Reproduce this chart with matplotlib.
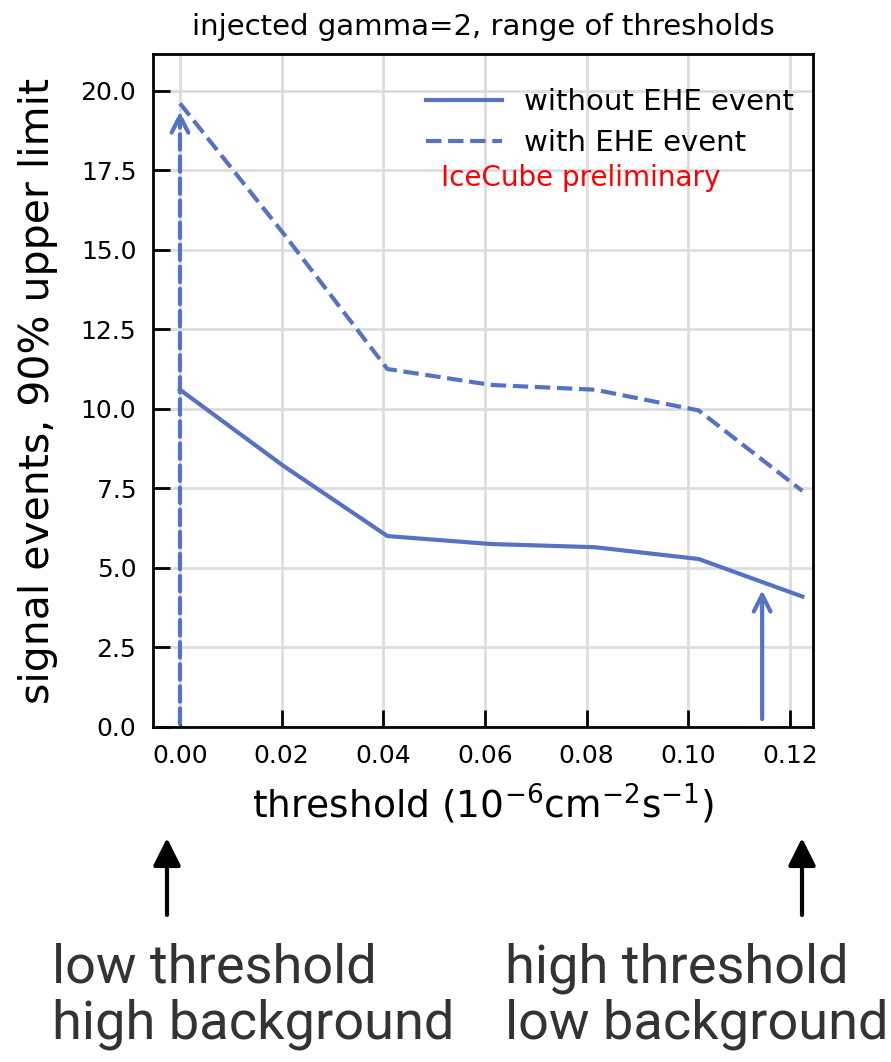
import matplotlib
matplotlib.use("Agg")
from matplotlib import pyplot as plt

# threshold values (1e-6 cm^-2 s^-1) and 90% upper limits
thresholds = [0.0, 0.0204, 0.0408, 0.0612, 0.0816, 0.102, 0.1224]
limit_without_ehe = [10.6, 8.2, 6.0, 5.75, 5.65, 5.28, 4.1]
limit_with_ehe = [19.6, 15.5, 11.25, 10.75, 10.6, 9.95, 7.42]

x_ticks = [0.00, 0.02, 0.04, 0.06, 0.08, 0.10, 0.12]
y_ticks = [0.0, 2.5, 5.0, 7.5, 10.0, 12.5, 15.0, 17.5, 20.0]

blue = '#5572c4'

fig = plt.figure(figsize=(8.91, 10.62), dpi=100)
ax = fig.add_axes([153 / 891, 1 - 727 / 1062, 660 / 891, 673 / 1062])

ax.plot(thresholds, limit_without_ehe, '-', color=blue, lw=3, label='without EHE event')
ax.plot(thresholds, limit_with_ehe, '--', color=blue, lw=3, label='with EHE event')

# arrows marking the two ends of the threshold range
ax.annotate('', xy=(thresholds[0], 19.35), xytext=(thresholds[0], 0.1),
            arrowprops=dict(arrowstyle='->', color=blue, lw=3, ls='--',
                            mutation_scale=30, shrinkA=0, shrinkB=0))
ax.annotate('', xy=(0.1145, 4.3), xytext=(0.1145, 0.25),
            arrowprops=dict(arrowstyle='->', color=blue, lw=3,
                            mutation_scale=30, shrinkA=0, shrinkB=0))

ax.set_xlim(-0.0053, 0.1245)
ax.set_ylim(0, 21.15)
ax.set_xticks(x_ticks)
ax.set_yticks(y_ticks)
ax.set_xticklabels(['%.2f' % v for v in x_ticks])
ax.set_yticklabels(['%.1f' % v for v in y_ticks])
ax.tick_params(direction='in', length=12, width=2, labelsize=18, pad=12)
ax.grid(True, color='#dddddd', lw=2)
for s in ax.spines.values():
    s.set_linewidth(2)

ax.set_title('injected gamma=2, range of thresholds', fontsize=21, pad=14)
ax.set_xlabel('threshold (10$^{-6}$cm$^{-2}$s$^{-1}$)', fontsize=27, labelpad=10)
ax.set_ylabel('signal events, 90% upper limit', fontsize=29.5, labelpad=16)

leg = ax.legend(loc='upper right', bbox_to_anchor=(1.0, 0.978), frameon=False,
                fontsize=21, handlelength=2.6, borderaxespad=0.25,
                handletextpad=0.75, labelspacing=0.45)
ax.text(0.437, 0.804, 'IceCube preliminary', color='red', fontsize=20, transform=ax.transAxes)

# annotations under the plot
fig.add_artist(matplotlib.patches.FancyArrowPatch(
    (167 / 891, 1 - 915 / 1062), (167 / 891, 1 - 838 / 1062), transform=fig.transFigure,
    arrowstyle='-|>', mutation_scale=42, color='black', lw=3, shrinkA=0, shrinkB=0))
fig.add_artist(matplotlib.patches.FancyArrowPatch(
    (802 / 891, 1 - 915 / 1062), (802 / 891, 1 - 838 / 1062), transform=fig.transFigure,
    arrowstyle='-|>', mutation_scale=42, color='black', lw=3, shrinkA=0, shrinkB=0))

fig.text(52 / 891, 1 - 1050 / 1062, 'low threshold\nhigh background', fontsize=39,
         family='Roboto', color='#333333', linespacing=1.12, va='bottom', ha='left')
fig.text(505 / 891, 1 - 1050 / 1062, 'high threshold\nlow background', fontsize=39,
         family='Roboto', color='#333333', linespacing=1.12, va='bottom', ha='left')

fig.savefig('out.png', dpi=100)
